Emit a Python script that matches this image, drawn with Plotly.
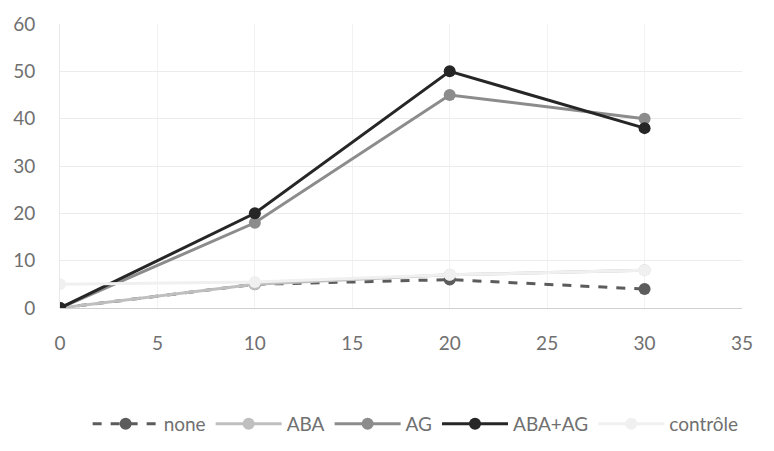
import plotly.graph_objects as go

x_vals = [0, 10, 20, 30]
none_vals = [0, 5, 6, 4]
aba_vals = [0, 5, 7, 8]
ag_vals = [0, 18, 45, 40]
abaag_vals = [0, 20, 50, 38]
controle_vals = [5, 5.5, 7, 8]

series = [
    ("none", none_vals, "#5c5c5c", "dash"),
    ("ABA", aba_vals, "#bfbfbf", "solid"),
    ("AG", ag_vals, "#8c8c8c", "solid"),
    ("ABA+AG", abaag_vals, "#262626", "solid"),
    ("contrôle", controle_vals, "#f0f0f0", "solid"),
]

fig = go.Figure()
for name, vals, color, dash in series:
    fig.add_trace(go.Scatter(
        x=x_vals, y=vals, name=name, mode="lines+markers",
        line=dict(color=color, width=3, dash=dash),
        marker=dict(color=color, size=12, symbol="circle"),
    ))

fig.update_layout(
    width=774, height=451,
    margin=dict(l=60, r=32, t=24, b=143),
    paper_bgcolor="white", plot_bgcolor="white",
    font=dict(family="Lato", size=19, color="#707070"),
    showlegend=True,
    legend=dict(orientation="h", xref="container", yref="container",
                x=0.537, xanchor="center", y=0.06, yanchor="middle",
                font=dict(family="Lato", size=19, color="#707070"), itemwidth=66, tracegroupgap=0),
    xaxis=dict(range=[0, 35], tickvals=[0, 5, 10, 15, 20, 25, 30, 35],
               showgrid=True, gridcolor="#f2f2f2", zeroline=False,
               showline=False, ticks="", ticklabelstandoff=22),
    yaxis=dict(range=[0, 60], tickvals=[0, 10, 20, 30, 40, 50, 60],
               showgrid=True, gridcolor="#ececec", zeroline=True, zerolinecolor="#d0d0d0",
               zerolinewidth=1, showline=True, linecolor="#e8e8e8",
               ticks="", ticklabelstandoff=20),
)

fig.write_html("out.html")
